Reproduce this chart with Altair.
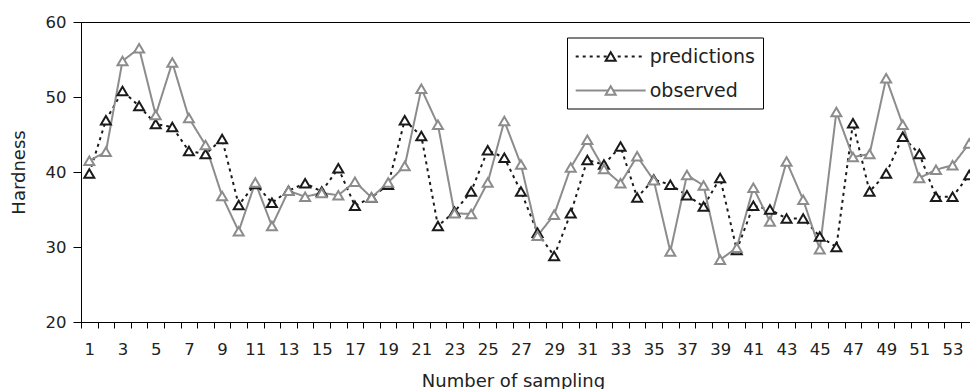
import altair as alt
import pandas as pd

# ---- data ----
sample = list(range(1, 55))
predictions = [39.8, 46.9, 50.8, 48.8, 46.4, 46.0, 42.8, 42.4, 44.4, 35.6,
               38.4, 35.9, 37.5, 38.5, 37.4, 40.5, 35.5, 36.6, 38.3, 46.9,
               44.8, 32.8, 34.7, 37.4, 42.9, 41.9, 37.4, 31.9, 28.8, 34.5,
               41.6, 41.0, 43.4, 36.6, 39.0, 38.3, 36.9, 35.4, 39.2, 29.6,
               35.5, 35.0, 33.8, 33.8, 31.4, 30.0, 46.5, 37.4, 39.8, 44.7,
               42.4, 36.7, 36.7, 39.6]
observed = [41.5, 42.7, 54.8, 56.5, 47.6, 54.6, 47.2, 43.6, 36.8, 32.1,
            38.6, 32.8, 37.5, 36.7, 37.2, 36.9, 38.7, 36.6, 38.6, 40.8,
            51.1, 46.3, 34.5, 34.4, 38.6, 46.8, 41.0, 31.5, 34.3, 40.6,
            44.3, 40.4, 38.5, 42.1, 38.9, 29.4, 39.6, 38.2, 28.3, 29.9,
            37.9, 33.4, 41.4, 36.3, 29.7, 48.0, 42.0, 42.4, 52.5, 46.3,
            39.2, 40.3, 40.9, 43.8]
series_names = ["predictions", "observed"]
y_ticks = [20, 30, 40, 50, 60]
x_label_values = list(range(1, 54, 2))          # labelled categories
x_tick_values = [i + 0.5 for i in range(0, 54)]  # category boundaries

rows = []
for i, s in enumerate(sample):
    rows.append({"sample": s, "series": "predictions", "hardness": predictions[i]})
for i, s in enumerate(sample):
    rows.append({"sample": s, "series": "observed", "hardness": observed[i]})
df = pd.DataFrame(rows)

FONT = "DejaVu Sans"
BLACK = "#1a1a1a"
GRAY = "#8c8c8c"
TEXT = "#222222"

axis_values = sorted(set(x_tick_values + x_label_values))

x_enc = alt.X(
    "sample:Q",
    scale=alt.Scale(domain=[0.5, 54.05], nice=False, zero=False),
    axis=alt.Axis(
        values=axis_values,
        labelExpr="datum.value % 2 === 1 ? '' + datum.value : ''",
        tickOpacity={"condition": {"test": "datum.value % 1 !== 0", "value": 1}, "value": 0},
        tickSize=6,
        labelPadding=13,
        labelOverlap=False,
        labelFlush=False,
        labelBound=False,
        grid=False,
        title="Number of sampling",
        titleX=432,
        titleY=64,
        titleBaseline="alphabetic",
        titleAlign="center",
    ),
)
y_enc = alt.Y(
    "hardness:Q",
    scale=alt.Scale(domain=[20, 60], nice=False, zero=False),
    axis=alt.Axis(
        values=y_ticks,
        tickSize=8,
        labelPadding=7,
        grid=False,
        title="Hardness",
        titleX=-62,
        titleY=150,
        titleAngle=270,
        titleBaseline="middle",
        titleAlign="center",
    ),
)

legend_common = dict(
    title=None,
    orient="none",
    legendX=486,
    legendY=15.5,
    symbolSize=400,
    symbolStrokeWidth=2,
    symbolOffset=24.7,
    labelOffset=28,
    labelFont=FONT,
    labelFontSize=19,
    labelColor=TEXT,
    padding=8,
    rowPadding=13,
)
leg_line = alt.Legend(
    symbolType="M-3.5,0H3.5",
    strokeColor="black",
    fillColor="white",
    **legend_common,
)
leg_pt = alt.Legend(
    symbolType="M-0.5,0.433L0,-0.433L0.5,0.433Z",
    symbolFillColor="white",
    labelOpacity=0,
    **legend_common,
)

lines = alt.Chart(df).mark_line(strokeWidth=2).encode(
    x=x_enc,
    y=y_enc,
    color=alt.Color("series:N", scale=alt.Scale(domain=series_names, range=[BLACK, GRAY]), legend=leg_line),
    strokeDash=alt.StrokeDash("series:N", scale=alt.Scale(domain=series_names, range=[[3, 4], [1, 0]]), legend=leg_line),
)

points = alt.Chart(df).mark_point(
    shape="triangle-up", size=100, filled=True, fill="white", strokeWidth=2, opacity=1
).encode(
    x=x_enc,
    y=y_enc,
    stroke=alt.Stroke("series:N", sort=series_names, scale=alt.Scale(range=[BLACK, GRAY]), legend=leg_pt),
)

chart = (
    alt.layer(lines, points)
    .properties(
        width=889,
        height=300,
        autosize=alt.AutoSizeParams(type="none"),
        padding={"left": 81, "top": 22, "right": 0, "bottom": 67},
        background="white",
    )
    .configure_view(stroke="black", strokeWidth=1)
    .configure_axis(
        domainColor="black",
        tickColor="black",
        labelColor=TEXT,
        titleColor=TEXT,
        labelFont=FONT,
        titleFont=FONT,
        labelFontSize=16.5,
        titleFontSize=18,
        titleFontWeight="normal",
    )
)

chart.save("out.html", embed_options={"renderer": "svg", "actions": False})
